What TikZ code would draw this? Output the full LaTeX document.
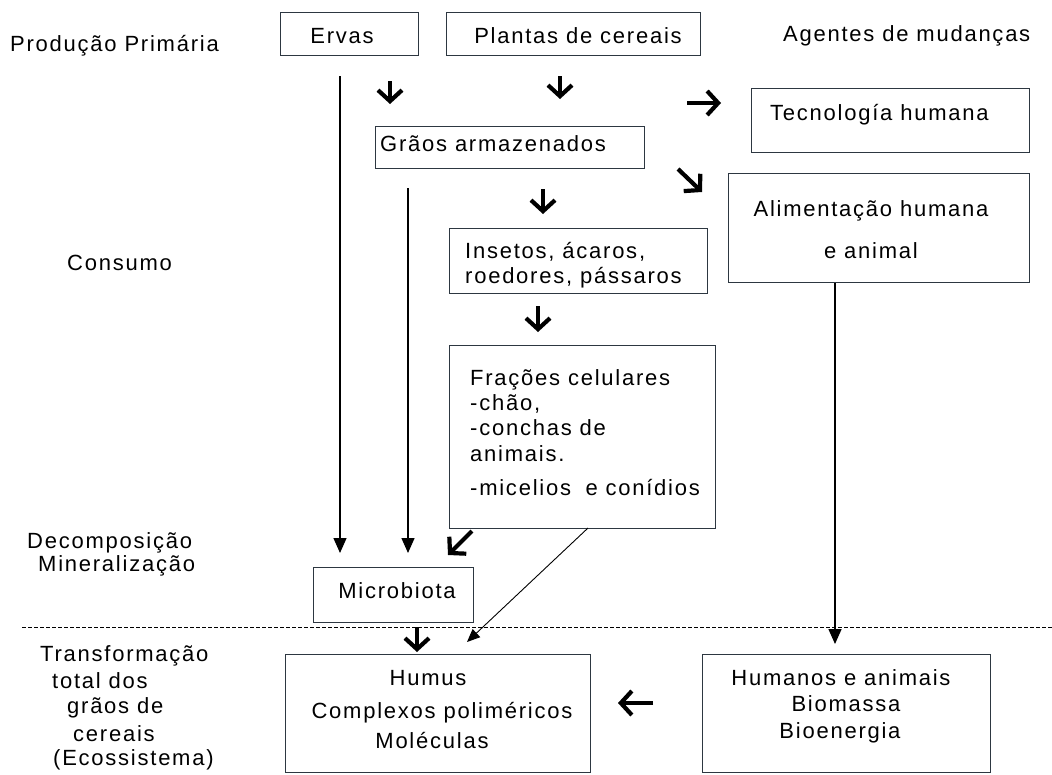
\documentclass[tikz,border=0pt]{standalone}
\usepackage{fontspec}
\setmainfont{Liberation Sans}[LetterSpace=8]
\usetikzlibrary{arrows.meta}
\definecolor{boxc}{RGB}{45,55,65}
\begin{document}
\begin{tikzpicture}[x=1pt,y=-1pt,
  every node/.style={font=\fontsize{22}{26}\selectfont, inner sep=0pt},
  box/.style={draw=boxc, line width=1.4pt, fill=white, anchor=north west},
  tw/.style={anchor=base west},
  tc/.style={anchor=base},
  boldarrow/.style={line width=4.2pt, -{Straight Barb[length=11pt,width=24pt,line width=4.2pt]}},
  thinarrow/.style={line width=1.4pt, -{Triangle[length=15pt,width=13pt]}},
  diagarrow/.style={line width=0.9pt, -{Triangle[length=13pt,width=11pt]}},
  sepline/.style={line width=1pt, dash pattern=on 4pt off 2pt}
]
\useasboundingbox (0,0) rectangle (1052,774);

% boxes
\node[box, minimum width=138pt, minimum height=43pt] (ervas) at (280,12) {};
\node[box, minimum width=254pt, minimum height=43pt] (plantas) at (446,12) {};
\node[box, minimum width=269pt, minimum height=42pt] (graos) at (375,126) {};
\node[box, minimum width=278pt, minimum height=64pt] (tec) at (751,88) {};
\node[box, minimum width=301pt, minimum height=109pt] (alim) at (728,173) {};
\node[box, minimum width=258pt, minimum height=65pt] (ins) at (449,228) {};
\node[box, minimum width=266pt, minimum height=183pt] (frac) at (449,345) {};
\node[box, minimum width=160pt, minimum height=55pt] (micro) at (313,567) {};
\node[box, minimum width=305pt, minimum height=118pt] (humus) at (285,654) {};
\node[box, minimum width=288pt, minimum height=118pt] (hum) at (702,654) {};

% box texts
\node[tc] (tErvas) at (342,43) {Ervas};
\node[tc] (tPlantas) at (578,43) {Plantas de cereais};
\node[tw] (tGraos) at (380,151) {Grãos armazenados};
\node[tw] (tTec) at (770,120) {Tecnología humana};
\node[tc] (tAlim1) at (871,216) {Alimentação humana};
\node[tc] (tAlim2) at (871,258) {e animal};
\node[tw] (tIns1) at (465,258) {Insetos, ácaros,};
\node[tw] (tIns2) at (465,283) {roedores, pássaros};
\node[tw] (tFr1) at (470,385) {Frações celulares};
\node[tw] (tFr2) at (470,410) {-chão,};
\node[tw] (tFr3) at (470,435) {-conchas de};
\node[tw] (tFr4) at (470,461) {animais.};
\node[tw] (tFr5) at (470,495) {-micelios\hspace{0.3em} e conídios};
\node[tc] (tMicro) at (397,598) {Microbiota};
\node[tc] (tHu1) at (428,685) {Humus};
\node[tc] (tHu2) at (442,718) {Complexos poliméricos};
\node[tc] (tHu3) at (432,748) {Moléculas};
\node[tc] (tHa1) at (841,685) {Humanos e animais};
\node[tc] (tHa2) at (846,711) {Biomassa};
\node[tc] (tHa3) at (840,738) {Bioenergia};

% side labels
\node[tw] (lProd) at (10,51) {Produção Primária};
\node[tw] (lAg) at (783,41) {Agentes de mudanças};
\node[tw] (lCons) at (67,270) {Consumo};
\node[tw] (lDec) at (27,548) {Decomposição};
\node[tw] (lMin) at (38,571) {Mineralização};
\node[tw] (lTr1) at (40,661) {Transformação};
\node[tw] (lTr2) at (52,688) {total dos};
\node[tw] (lTr3) at (67,713) {grãos de};
\node[tw] (lTr4) at (73,741) {cereais};
\node[tw] (lTr5) at (53,765) {(Ecossistema)};

% dashed separator
\coordinate (dl) at (22,627);
\coordinate (dr) at (1052,627);
\draw[sepline] (dl) -- (dr);

% thin long arrows
\coordinate (e1a) at (340,76);  \coordinate (e1b) at (340,553);
\coordinate (e2a) at (408,188); \coordinate (e2b) at (408,553);
\coordinate (e3b) at (835,644);
\coordinate (e4a) at (588,528); \coordinate (e4b) at (467,642);
\draw[thinarrow] (e1a) -- (e1b);
\draw[thinarrow] (e2a) -- (e2b);
\draw[thinarrow] (alim.south -| e3b) -- (e3b);
\draw[diagarrow] (e4a) -- (e4b);

% bold short arrows
\coordinate (b1a) at (390,81);  \coordinate (b1b) at (390,104);
\coordinate (b2a) at (560,76);  \coordinate (b2b) at (560,99);
\coordinate (b3a) at (687,103); \coordinate (b3b) at (721,103);
\coordinate (b4a) at (678,169); \coordinate (b4b) at (702,192);
\coordinate (b5a) at (543,189); \coordinate (b5b) at (543,214);
\coordinate (b6a) at (538,306); \coordinate (b6b) at (538,332);
\coordinate (b7a) at (472,531); \coordinate (b7b) at (448,555);
\coordinate (b8a) at (417,627); \coordinate (b8b) at (417,652);
\coordinate (b9a) at (653,703); \coordinate (b9b) at (618,703);
\foreach \i in {1,...,9} {\draw[boldarrow] (b\i a) -- (b\i b);}
\end{tikzpicture}
\end{document}
